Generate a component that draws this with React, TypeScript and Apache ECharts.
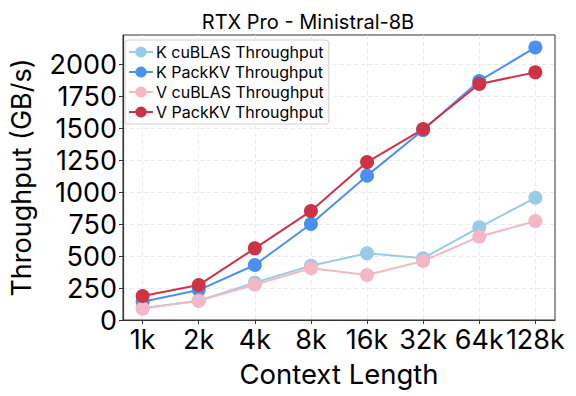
import React, { useEffect, useRef } from "react";
import * as echarts from "echarts";

const categories = ["1k", "2k", "4k", "8k", "16k", "32k", "64k", "128k"];
const kCublas = [91, 151, 292, 424, 521, 482, 724, 955];
const kPackKV = [143, 234, 430, 750, 1128, 1484, 1868, 2130];
const vCublas = [89, 150, 275, 404, 352, 461, 651, 773];
const vPackKV = [188, 273, 560, 851, 1234, 1492, 1844, 1935];
const yTicks = [0, 250, 500, 750, 1000, 1250, 1500, 1750, 2000];

const FONT = "Inter";

export default function App() {
  const ref = useRef<HTMLDivElement>(null);
  useEffect(() => {
    const chart = echarts.init(ref.current!, null, { renderer: "svg" });
    const mk = (name: string, vals: number[], color: string) => ({
      name,
      type: "line",
      data: vals.map((v, i) => [i, v]),
      symbol: "circle",
      symbolSize: 14,
      lineStyle: { width: 2, color },
      itemStyle: { color },
      emphasis: { disabled: true },
    });
    const gridLine = { show: true, lineStyle: { color: "#e3e3e3", type: [4, 3], width: 0.8 } };
    chart.setOption({
      animation: false,
      textStyle: { fontFamily: FONT },
      title: {
        text: "RTX Pro - Ministral-8B",
        left: 303,
        textAlign: "center",
        top: 7,
        textStyle: { fontFamily: FONT, fontSize: 20, fontWeight: "normal", color: "#000" },
      },
      legend: {
        left: 125,
        top: 40,
        orient: "vertical",
        itemGap: 4,
        itemWidth: 24,
        itemHeight: 14,
        padding: [4, 5, 4, 3],
        backgroundColor: "#fff",
        borderColor: "#d0d0d0",
        borderWidth: 1,
        borderRadius: 3,
        textStyle: { fontFamily: FONT, fontSize: 16, lineHeight: 16, color: "#000", padding: [0, 0, 0, -2] },
        data: [
          "K cuBLAS Throughput",
          "K PackKV Throughput",
          "V cuBLAS Throughput",
          "V PackKV Throughput",
        ],
      },
      grid: { left: 121, top: 35, right: 21, bottom: 76, show: true, borderColor: "#333", borderWidth: 1 },
      xAxis: {
        type: "value",
        min: -0.35,
        max: 7.35,
        name: "Context Length",
        nameLocation: "middle",
        nameGap: 40,
        nameTextStyle: { fontFamily: FONT, fontSize: 27.5, color: "#000" },
        axisLine: { show: true, onZero: false, lineStyle: { color: "#333", width: 1.2 } },
        axisTick: {
          show: true,
          length: 4,
          lineStyle: { color: "#333" },
          customValues: categories.map((_, i) => i),
        },
        axisLabel: {
          fontFamily: FONT,
          fontSize: 27,
          color: "#000",
          margin: 6,
          customValues: categories.map((_, i) => i),
          formatter: (v: number) => categories[Math.round(v)] ?? "",
        },
        splitLine: gridLine,
      },
      yAxis: {
        type: "value",
        min: 0,
        max: 2227,
        name: "Throughput (GB/s)",
        nameLocation: "middle",
        nameGap: 88,
        nameRotate: 90,
        nameTextStyle: { fontFamily: FONT, fontSize: 27, color: "#000" },
        axisLine: { show: true, onZero: false, lineStyle: { color: "#333", width: 1.2 } },
        axisTick: { show: true, length: 4, lineStyle: { color: "#333" }, customValues: yTicks },
        axisLabel: {
          fontFamily: FONT,
          fontSize: 27,
          color: "#000",
          margin: 6,
          customValues: yTicks,
          showMaxLabel: true,
          showMinLabel: true,
          hideOverlap: false,
          formatter: (v: number) => String(v),
        },
        splitLine: gridLine,
      },
      series: [
        mk("K cuBLAS Throughput", kCublas, "#96cce8"),
        mk("K PackKV Throughput", kPackKV, "#4a90f2"),
        mk("V cuBLAS Throughput", vCublas, "#f4b7c3"),
        mk("V PackKV Throughput", vPackKV, "#cc3345"),
      ],
    });
    return () => chart.dispose();
  }, []);
  return <div ref={ref} style={{ width: 576, height: 396, position: "absolute", left: 0, top: 0 }} />;
}
